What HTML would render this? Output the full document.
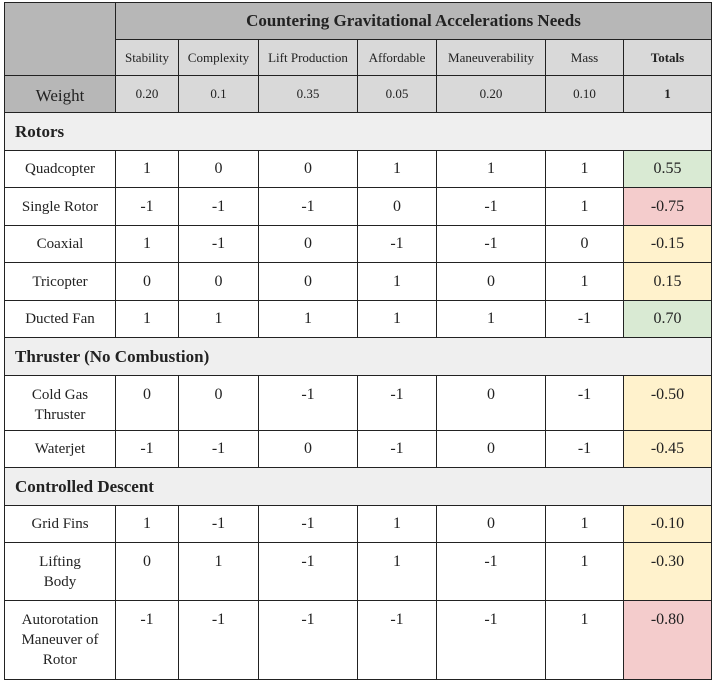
<!DOCTYPE html>
<html><head><meta charset="utf-8">
<style>
body{margin:0;width:713px;height:686px;background:#fff;font-family:"Liberation Serif",serif;color:#222;overflow:hidden}
.c{position:absolute;box-sizing:border-box;border:1px solid #222;display:flex;justify-content:center;text-align:center;line-height:20px}
.mid{align-items:center}
.top{align-items:flex-start;padding-top:9px}
</style></head><body>
<div id="t" style="position:absolute;left:0;top:0;width:713px;height:686px"></div>
<script>
const xs=[4,115,178,258,357,436,545,623,711];
const criteria=["Stability","Complexity","Lift Production","Affordable","Maneuverability","Mass","Totals"];
const weights=["0.20","0.1","0.35","0.05","0.20","0.10","1"];
const rows=[
 {s:"Rotors",y:112,h:38},
 {n:"Quadcopter",v:["1","0","0","1","1","1"],t:"0.55",y:150,h:37,c:"#d9ead3"},
 {n:"Single Rotor",v:["-1","-1","-1","0","-1","1"],t:"-0.75",y:187,h:38,c:"#f4cccc"},
 {n:"Coaxial",v:["1","-1","0","-1","-1","0"],t:"-0.15",y:225,h:37,c:"#fff2cc"},
 {n:"Tricopter",v:["0","0","0","1","0","1"],t:"0.15",y:262,h:38,c:"#fff2cc"},
 {n:"Ducted Fan",v:["1","1","1","1","1","-1"],t:"0.70",y:300,h:37,c:"#d9ead3"},
 {s:"Thruster (No Combustion)",y:337,h:38},
 {n:"Cold Gas<br>Thruster",v:["0","0","-1","-1","0","-1"],t:"-0.50",y:375,h:55,c:"#fff2cc",top:1},
 {n:"Waterjet",v:["-1","-1","0","-1","0","-1"],t:"-0.45",y:430,h:37,c:"#fff2cc"},
 {s:"Controlled Descent",y:467,h:38},
 {n:"Grid Fins",v:["1","-1","-1","1","0","1"],t:"-0.10",y:505,h:37,c:"#fff2cc"},
 {n:"Lifting<br>Body",v:["0","1","-1","1","-1","1"],t:"-0.30",y:542,h:58,c:"#fff2cc",top:1},
 {n:"Autorotation<br>Maneuver of<br>Rotor",v:["-1","-1","-1","-1","-1","1"],t:"-0.80",y:600,h:79,c:"#f4cccc",top:1}
];
const T=document.getElementById('t');
function cell(x,y,w,h,html,st,name,cls){
 const d=document.createElement('div');
 d.className='c '+(cls||'mid');
 d.style.cssText+=`left:${x}px;top:${y}px;width:${w+1}px;height:${h+1}px;`+(st||'');
 d.innerHTML=html;
 
 
 T.appendChild(d);
}
cell(xs[0],2,xs[1]-xs[0],73,'','background:#b7b7b7','corner-cell');
cell(xs[1],2,xs[8]-xs[1],37,'Countering Gravitational Accelerations Needs','background:#b7b7b7;font-weight:bold;font-size:17px','table-title');
cell(xs[0],75,xs[1]-xs[0],37,'Weight','background:#b7b7b7;font-size:17px;padding-top:4px','weight-label');
criteria.forEach((c,i)=>{
 cell(xs[i+1],39,xs[i+2]-xs[i+1],36,c,'background:#d9d9d9;font-size:13px'+(i==6?';font-weight:bold':''),'criterion-header');
 cell(xs[i+1],75,xs[i+2]-xs[i+1],37,weights[i],'background:#d9d9d9;font-size:13px'+(i==6?';font-weight:bold':''),'criterion-weight');
});
rows.forEach(r=>{
 if(r.s){cell(xs[0],r.y,xs[8]-xs[0],r.h,r.s,'background:#efefef;font-weight:bold;font-size:17px;justify-content:flex-start;padding-left:10px','section-header');return;}
 const cl=r.top?'top':'mid';
 cell(xs[0],r.y,xs[1]-xs[0],r.h,r.n,'font-size:15px','option-name',cl);
 r.v.forEach((v,i)=>cell(xs[i+1],r.y,xs[i+2]-xs[i+1],r.h,v,'font-size:16px','score-cell',cl));
 cell(xs[7],r.y,xs[8]-xs[7],r.h,r.t,'font-size:16px;background:'+r.c,'total-cell',cl);
});
</script>
</body></html>
